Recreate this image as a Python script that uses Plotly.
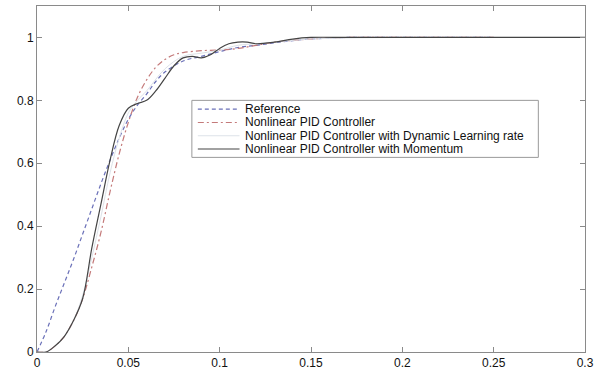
import plotly.graph_objects as go

# Reference (blue dashed)
ref_t = [0, 0.005, 0.01, 0.015, 0.02, 0.025, 0.03, 0.035, 0.04, 0.045, 0.05, 0.055,
         0.06, 0.065, 0.07, 0.08, 0.09, 0.1, 0.11, 0.12, 0.13, 0.14, 0.15, 0.17, 0.2, 0.25]
ref_y = [0, 0.065, 0.145, 0.22, 0.295, 0.375, 0.455, 0.535, 0.61, 0.68, 0.74, 0.785,
         0.82, 0.86, 0.89, 0.925, 0.94, 0.955, 0.968, 0.975, 0.983, 0.99, 0.995, 1.0, 1.0, 1.0]

# Nonlinear PID Controller (red dash-dot)
npid_t = [0, 0.005, 0.01, 0.015, 0.02, 0.025, 0.03, 0.035, 0.04, 0.045, 0.05, 0.055, 0.06,
          0.065, 0.07, 0.075, 0.08, 0.09, 0.1, 0.11, 0.12, 0.13, 0.15, 0.17, 0.2, 0.25]
npid_y = [0, 0.0, 0.02, 0.05, 0.1, 0.17, 0.27, 0.38, 0.51, 0.63, 0.73, 0.81, 0.865,
          0.905, 0.93, 0.945, 0.952, 0.958, 0.96, 0.965, 0.975, 0.985, 0.995, 1.0, 1.0, 1.0]

# Nonlinear PID Controller with Dynamic Learning rate (very light)
dyn_t = [0, 0.005, 0.01, 0.015, 0.02, 0.025, 0.03, 0.035, 0.04, 0.045, 0.05, 0.055, 0.06,
         0.07, 0.08, 0.09, 0.1, 0.11, 0.12, 0.13, 0.15, 0.2, 0.25, 0.3]
dyn_y = [0, 0.0, 0.02, 0.05, 0.1, 0.18, 0.3, 0.43, 0.57, 0.68, 0.76, 0.8, 0.83,
         0.9, 0.94, 0.95, 0.96, 0.975, 0.98, 0.985, 0.995, 1.0, 1.0, 1.0]

# Nonlinear PID Controller with Momentum (dark solid)
mom_t = [0, 0.005, 0.01, 0.015, 0.02, 0.025, 0.03, 0.035, 0.04, 0.045, 0.05, 0.055, 0.06,
         0.065, 0.07, 0.075, 0.08, 0.085, 0.09, 0.095, 0.1, 0.105, 0.11, 0.115, 0.12,
         0.13, 0.14, 0.15, 0.17, 0.2, 0.25, 0.3]
mom_y = [0, 0.0, 0.02, 0.05, 0.1, 0.17, 0.33, 0.47, 0.61, 0.72, 0.775, 0.79, 0.80,
         0.83, 0.87, 0.91, 0.935, 0.94, 0.935, 0.945, 0.965, 0.98, 0.985, 0.985, 0.98,
         0.985, 0.995, 1.0, 1.0, 1.0, 1.0, 1.0]

x_ticks = [0, 0.05, 0.1, 0.15, 0.2, 0.25, 0.3]
x_labels = ["0", "0.05", "0.1", "0.15", "0.2", "0.25", "0.3"]
y_ticks = [0, 0.2, 0.4, 0.6, 0.8, 1]
y_labels = ["0", "0.2", "0.4", "0.6", "0.8", "1"]

names = ["Reference", "Nonlinear PID Controller",
         "Nonlinear PID Controller with Dynamic Learning rate",
         "Nonlinear PID Controller with Momentum"]
colors = ["#6a70b8", "#c47a7a", "#dde2e8", "#444444"]
dashes = ["4px,3px", "6px,3px,2px,3px", "solid", "solid"]
widths = [1.2, 1.2, 1.0, 1.2]
series = [(ref_t, ref_y), (npid_t, npid_y), (dyn_t, dyn_y), (mom_t, mom_y)]

FW, FH = 599, 375
ML, MR, MT, MB = 37, 10, 5, 18
PW, PH = FW - ML - MR, FH - MT - MB


def px(xp):
    """page pixel x -> paper fraction"""
    return (xp - ML) / PW


def py(yp):
    """page pixel y -> paper fraction"""
    return (FH - MB - yp) / PH


fig = go.Figure()
for (t, y), n, c, d, w in zip(series, names, colors, dashes, widths):
    fig.add_trace(go.Scatter(x=t, y=y, mode="lines", name=n, showlegend=False,
                             line=dict(color=c, width=w, dash=d, shape="spline")))

font = dict(family="Arial, Liberation Sans, sans-serif", size=12, color="#111")
axis_common = dict(showgrid=False, zeroline=False, showline=True, linecolor="#8a8a8a",
                   linewidth=1, mirror="ticks", ticks="inside", ticklen=5,
                   tickcolor="#8a8a8a", tickfont=font)

# compact MATLAB-style legend
shapes = [dict(type="rect", xref="paper", yref="paper", x0=px(193), x1=px(542),
               y0=py(159), y1=py(101), line=dict(color="#999999", width=1),
               fillcolor="white", layer="above")]
annotations = []
rows = [110, 123.5, 137, 150.5]
for r, n, c, d, w in zip(rows, names, colors, dashes, widths):
    shapes.append(dict(type="line", xref="paper", yref="paper", x0=px(199), x1=px(241),
                       y0=py(r), y1=py(r), line=dict(color=c, width=w, dash=d),
                       layer="above"))
    annotations.append(dict(text=n, xref="paper", yref="paper", x=px(245), y=py(r),
                            xanchor="left", yanchor="middle", showarrow=False,
                            font=dict(family="Arial, Liberation Sans, sans-serif",
                                      size=12, color="#111")))

fig.update_layout(
    width=FW, height=FH,
    margin=dict(l=ML, r=MR, t=MT, b=MB, pad=0),
    paper_bgcolor="white", plot_bgcolor="white",
    xaxis=dict(range=[0, 0.3], tickvals=x_ticks, ticktext=x_labels, **axis_common),
    yaxis=dict(range=[0, 1.1], tickvals=y_ticks, ticktext=y_labels, **axis_common),
    shapes=shapes, annotations=annotations,
    showlegend=False,
)

fig.write_html("out.html",
               config={"displayModeBar": False, "staticPlot": True},
               post_script="document.body.style.margin='0';"
                           "document.body.style.overflow='hidden';")
